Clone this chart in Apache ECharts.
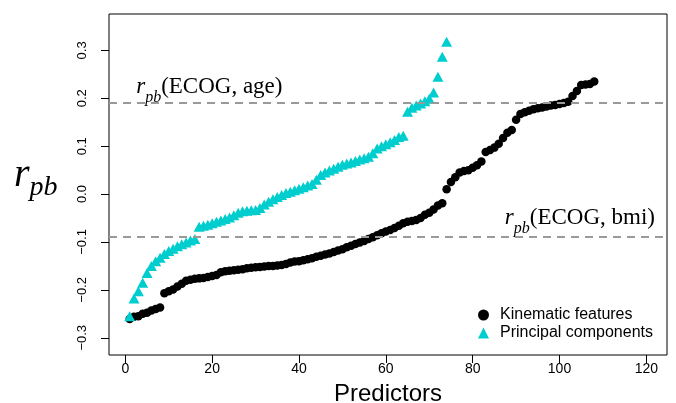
<!DOCTYPE html>
<html>
<head>
<meta charset="utf-8">
<script src="https://cdn.jsdelivr.net/npm/echarts@6/dist/echarts.min.js"></script>
<style>
  html, body { margin: 0; padding: 0; background: #fff; }
  #chart { width: 676px; height: 403px; }
</style>
</head>
<body>
<div id="chart"></div>
<script>
// point-biserial correlations, sorted
const kinematic = [
  -0.261, -0.256, -0.255, -0.250, -0.248, -0.243, -0.240, -0.237, -0.207, -0.203,
  -0.199, -0.193, -0.187, -0.181, -0.179, -0.177, -0.176, -0.175, -0.173, -0.171,
  -0.169, -0.163, -0.161, -0.160, -0.159, -0.158, -0.157, -0.155, -0.154, -0.153,
  -0.152, -0.151, -0.150, -0.150, -0.149, -0.148, -0.146, -0.143, -0.141, -0.140,
  -0.138, -0.136, -0.134, -0.131, -0.129, -0.126, -0.124, -0.121, -0.118, -0.115,
  -0.111, -0.108, -0.104, -0.101, -0.098, -0.094, -0.090, -0.086, -0.082, -0.078,
  -0.075, -0.071, -0.066, -0.061, -0.058, -0.056, -0.054, -0.050, -0.043, -0.039,
  -0.032, -0.024, -0.019, 0.010, 0.025, 0.035, 0.045, 0.048, 0.050, 0.055,
  0.060, 0.068, 0.088, 0.092, 0.097, 0.105, 0.117, 0.128, 0.134, 0.155,
  0.167, 0.171, 0.174, 0.177, 0.179, 0.181, 0.183, 0.185, 0.186, 0.188,
  0.190, 0.193, 0.205, 0.215, 0.228, 0.229, 0.230, 0.235
]
const principal = [
  -0.255, -0.218, -0.203, -0.185, -0.165, -0.150, -0.140, -0.133, -0.125, -0.119,
  -0.114, -0.109, -0.105, -0.101, -0.097, -0.094, -0.068, -0.066, -0.064, -0.061,
  -0.058, -0.055, -0.052, -0.049, -0.044, -0.039, -0.036, -0.035, -0.034, -0.033,
  -0.029, -0.022, -0.016, -0.011, -0.006, -0.002, 0.002, 0.005, 0.008, 0.011,
  0.014, 0.018, 0.021, 0.030, 0.040, 0.045, 0.049, 0.053, 0.057, 0.061,
  0.064, 0.066, 0.069, 0.072, 0.075, 0.078, 0.085, 0.095, 0.100, 0.104,
  0.108, 0.113, 0.119, 0.122, 0.172, 0.180, 0.185, 0.189, 0.194, 0.199,
  0.212, 0.245, 0.287, 0.318
]
const xTicks = [0, 20, 40, 60, 80, 100, 120]
const yTicks = [-0.3, -0.2, -0.1, 0.0, 0.1, 0.2, 0.3]
const refAge = 0.186
const refBmi = -0.088

const seriesNames = ['Kinematic features', 'Principal components']
const cyan = '#00CDCD'

const chart = echarts.init(document.getElementById('chart'))

const sans = 'Liberation Sans'
const serif = 'Liberation Serif'

function minusSign(v) {
  return v.toFixed(1).replace('-', '\u2212')
}

chart.setOption({
  animation: false,
  backgroundColor: '#fff',
  grid: {
    left: 109, right: 9, top: 14, bottom: 48,
    outerBoundsMode: 'none',
    containLabel: false,
    show: true, borderColor: '#000', borderWidth: 1
  },
  xAxis: {
    type: 'value',
    min: -3.76, max: 124.76,
    axisLine: { show: false, onZero: false },
    splitLine: { show: false },
    axisTick: {
      show: true, inside: false, length: 8,
      customValues: xTicks,
      lineStyle: { color: '#000', width: 1 }
    },
    axisLabel: {
      customValues: xTicks,
      margin: 7,
      fontFamily: sans, fontSize: 14, color: '#000'
    },
    name: 'Predictors',
    nameLocation: 'middle',
    nameGap: 27,
    nameTextStyle: { fontFamily: sans, fontSize: 24, color: '#000' }
  },
  yAxis: {
    type: 'value',
    min: -0.336, max: 0.376,
    axisLine: { show: false, onZero: false },
    splitLine: { show: false },
    axisTick: {
      show: true, inside: false, length: 8,
      customValues: yTicks,
      lineStyle: { color: '#000', width: 1 }
    },
    axisLabel: {
      customValues: yTicks,
      rotate: 90,
      margin: 20,
      formatter: minusSign,
      fontFamily: sans, fontSize: 13, color: '#000'
    }
  },
  legend: {
    orient: 'vertical',
    left: 473, top: 302,
    itemWidth: 11, itemHeight: 11,
    itemGap: 2,
    textStyle: { fontFamily: sans, fontSize: 16, color: '#000', padding: [0, 0, 0, 6] },
    data: [
      { name: seriesNames[0], icon: 'circle' },
      { name: seriesNames[1], icon: 'triangle' }
    ]
  },
  series: [
    {
      name: seriesNames[0],
      type: 'scatter',
      symbol: 'circle',
      symbolSize: 8.5,
      itemStyle: { color: '#000', opacity: 1 },
      data: kinematic.map((v, i) => [i + 1, v]),
      markLine: {
        silent: true,
        symbol: 'none',
        label: { show: false },
        lineStyle: { color: '#999', type: [8, 6], width: 2 },
        data: [{ yAxis: refAge }, { yAxis: refBmi }]
      },
      z: 3
    },
    {
      name: seriesNames[1],
      type: 'scatter',
      symbol: 'triangle',
      symbolSize: [11, 10],
      itemStyle: { color: cyan, opacity: 1 },
      data: principal.map((v, i) => [i + 1, v]),
      z: 4
    }
  ]
})

// math-style labels, anchored through the axes
function mathLabel(rest, size) {
  return {
    text: '{r|r}{s|pb}{n|' + rest + '}',
    rich: {
      r: { fontFamily: serif, fontStyle: 'italic', fontSize: size, lineHeight: size + 8, verticalAlign: 'top', color: '#000' },
      s: { fontFamily: serif, fontStyle: 'italic', fontSize: Math.round(size * 0.7), lineHeight: Math.round(size * 0.7), verticalAlign: 'bottom', color: '#000' },
      n: { fontFamily: serif, fontSize: size, lineHeight: size + 8, verticalAlign: 'top', color: '#000' }
    }
  }
}

const agePos = chart.convertToPixel({ gridIndex: 0 }, [2.5, refAge])
const bmiPos = chart.convertToPixel({ gridIndex: 0 }, [122, refBmi])
const yMid = chart.convertToPixel({ gridIndex: 0 }, [0, 0.035])

chart.setOption({
  graphic: [
    {
      type: 'text', x: agePos[0], y: agePos[1] - 30, silent: true,
      style: Object.assign(mathLabel('(ECOG, age)', 23), { align: 'left' })
    },
    {
      type: 'text', x: bmiPos[0], y: bmiPos[1] - 30, silent: true,
      style: Object.assign(mathLabel('(ECOG, bmi)', 23), { align: 'right' })
    },
    {
      type: 'text', x: 14, y: yMid[1] - 22, silent: true,
      style: {
        text: '{r|r}{s|pb}',
        rich: {
          r: { fontFamily: serif, fontStyle: 'italic', fontSize: 40, lineHeight: 46, verticalAlign: 'top', color: '#000' },
          s: { fontFamily: serif, fontStyle: 'italic', fontSize: 28, lineHeight: 27, verticalAlign: 'bottom', color: '#000' }
        }
      }
    }
  ]
})
</script>
</body>
</html>
